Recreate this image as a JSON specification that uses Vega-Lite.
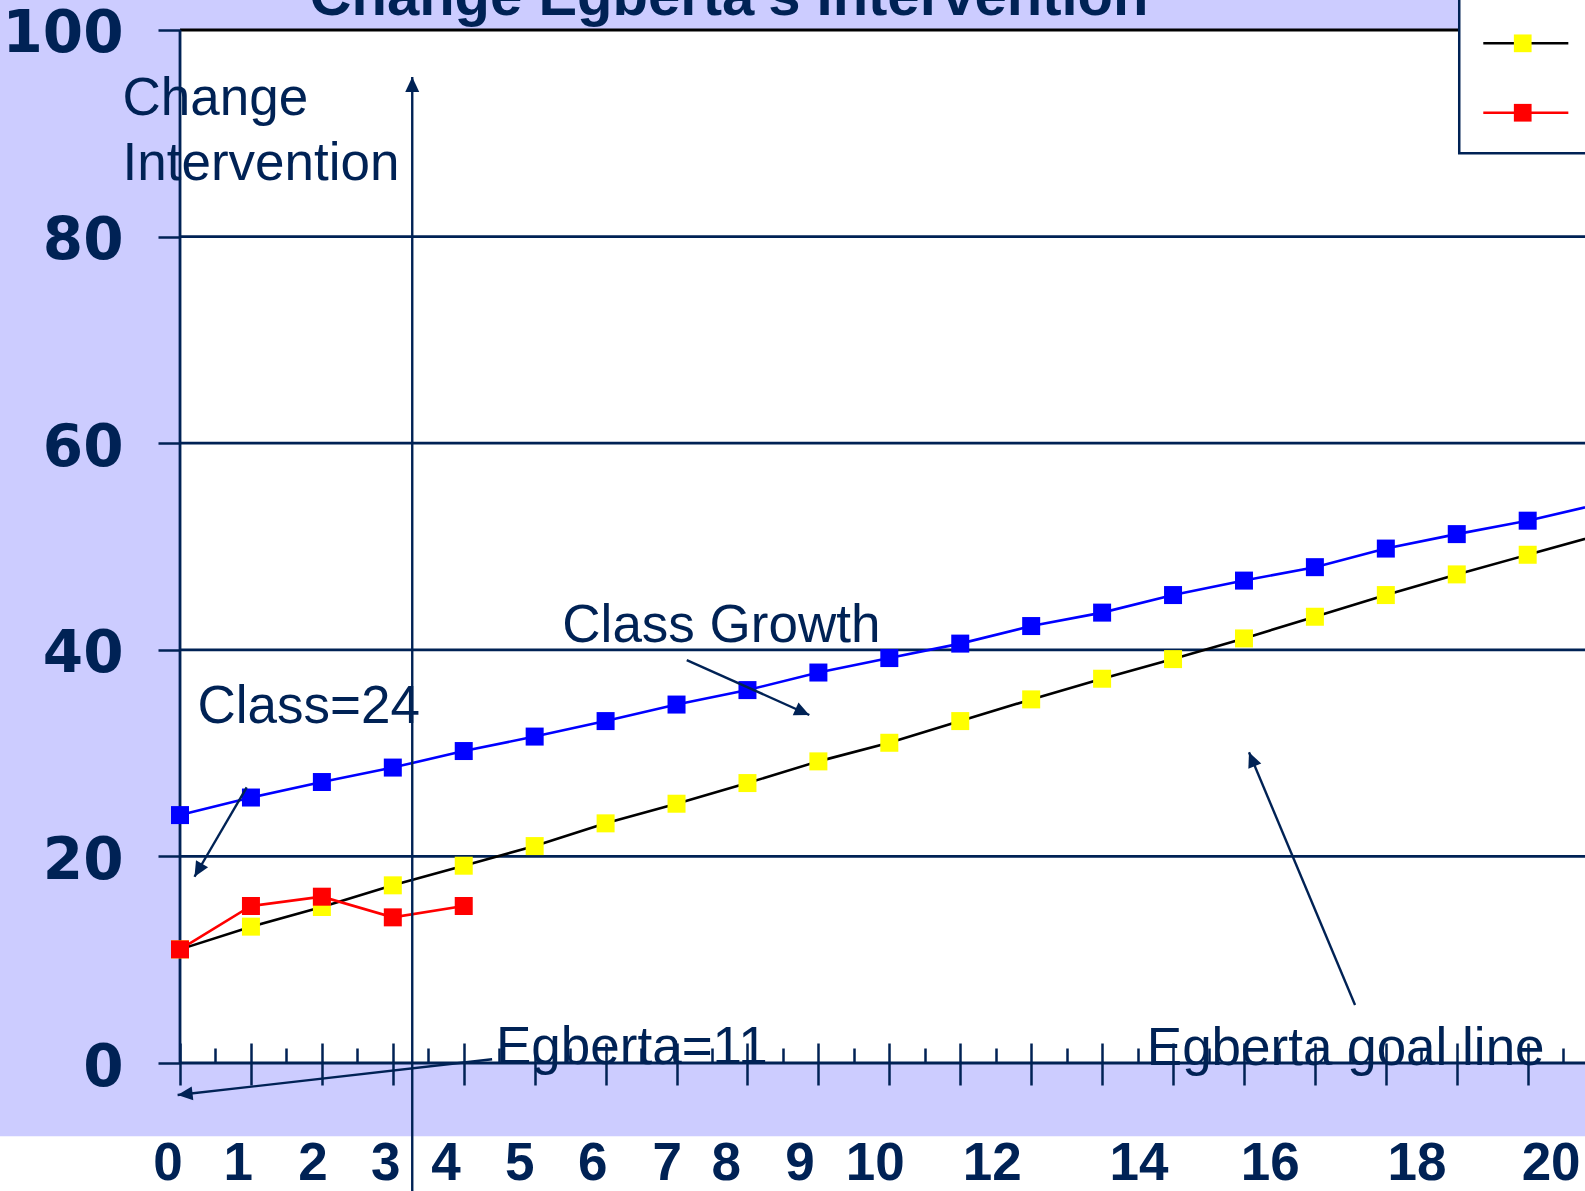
{
  "$schema": "https://vega.github.io/schema/vega-lite/v6.json",
  "width": 1585,
  "height": 1191,
  "padding": 0,
  "autosize": {"type": "none"},
  "background": "#CCCCFF",
  "config": {"view": {"stroke": null}, "font": "Liberation Sans"},
  "datasets": {
    "scores": [
      {"series": "Class", "week": 0, "score": 24.0}, {"series": "Class", "week": 1, "score": 25.7},
      {"series": "Class", "week": 2, "score": 27.2}, {"series": "Class", "week": 3, "score": 28.6},
      {"series": "Class", "week": 4, "score": 30.2}, {"series": "Class", "week": 5, "score": 31.6},
      {"series": "Class", "week": 6, "score": 33.1}, {"series": "Class", "week": 7, "score": 34.7},
      {"series": "Class", "week": 8, "score": 36.1}, {"series": "Class", "week": 9, "score": 37.8},
      {"series": "Class", "week": 10, "score": 39.2}, {"series": "Class", "week": 11, "score": 40.6},
      {"series": "Class", "week": 12, "score": 42.3}, {"series": "Class", "week": 13, "score": 43.6},
      {"series": "Class", "week": 14, "score": 45.3}, {"series": "Class", "week": 15, "score": 46.7},
      {"series": "Class", "week": 16, "score": 48.0}, {"series": "Class", "week": 17, "score": 49.8},
      {"series": "Class", "week": 18, "score": 51.2}, {"series": "Class", "week": 19, "score": 52.5},
      {"series": "Class", "week": 20, "score": 54.1},
      {"series": "Goal", "week": 0, "score": 11.0}, {"series": "Goal", "week": 1, "score": 13.2},
      {"series": "Goal", "week": 2, "score": 15.1}, {"series": "Goal", "week": 3, "score": 17.2},
      {"series": "Goal", "week": 4, "score": 19.1}, {"series": "Goal", "week": 5, "score": 21.0},
      {"series": "Goal", "week": 6, "score": 23.2}, {"series": "Goal", "week": 7, "score": 25.1},
      {"series": "Goal", "week": 8, "score": 27.1}, {"series": "Goal", "week": 9, "score": 29.2},
      {"series": "Goal", "week": 10, "score": 31.0}, {"series": "Goal", "week": 11, "score": 33.1},
      {"series": "Goal", "week": 12, "score": 35.2}, {"series": "Goal", "week": 13, "score": 37.2},
      {"series": "Goal", "week": 14, "score": 39.1}, {"series": "Goal", "week": 15, "score": 41.1},
      {"series": "Goal", "week": 16, "score": 43.2}, {"series": "Goal", "week": 17, "score": 45.3},
      {"series": "Goal", "week": 18, "score": 47.3}, {"series": "Goal", "week": 19, "score": 49.2},
      {"series": "Goal", "week": 20, "score": 51.1},
      {"series": "Egberta", "week": 0, "score": 11.0}, {"series": "Egberta", "week": 1, "score": 15.2},
      {"series": "Egberta", "week": 2, "score": 16.1}, {"series": "Egberta", "week": 3, "score": 14.1},
      {"series": "Egberta", "week": 4, "score": 15.2}
    ],
    "gridlines": [{"level": 20}, {"level": 40}, {"level": 60}, {"level": 80}],
    "arrows": [
      {"name": "intervention", "x": 3.274, "y": -13, "x2": 3.274, "y2": 95.45},
      {"name": "class24", "x": 0.94, "y": 26.69, "x2": 0.204, "y2": 18.03},
      {"name": "classgrowth", "x": 7.144, "y": 39.01, "x2": 8.872, "y2": 33.69},
      {"name": "egberta11", "x": 4.40, "y": 0.36, "x2": -0.034, "y2": -3.10},
      {"name": "goalline", "x": 16.566, "y": 5.61, "x2": 15.071, "y2": 30.08}
    ],
    "notes": [
      {"note": "Change", "x": -0.811, "y": 91.77},
      {"note": "Intervention", "x": -0.811, "y": 85.48},
      {"note": "Class=24", "x": 0.247, "y": 32.88},
      {"note": "Class Growth", "x": 5.39, "y": 40.78},
      {"note": "Egberta=11", "x": 4.455, "y": -0.05},
      {"note": "Egberta goal line", "x": 13.63, "y": -0.2}
    ],
    "weeklabels": [
      {"label": "0", "pos": -0.17}, {"label": "1", "pos": 0.82}, {"label": "2", "pos": 1.875},
      {"label": "3", "pos": 2.90}, {"label": "4", "pos": 3.75}, {"label": "5", "pos": 4.79},
      {"label": "6", "pos": 5.82}, {"label": "7", "pos": 6.87}, {"label": "8", "pos": 7.70},
      {"label": "9", "pos": 8.74}, {"label": "10", "pos": 9.80}, {"label": "12", "pos": 11.45},
      {"label": "14", "pos": 13.52}, {"label": "16", "pos": 15.37}, {"label": "18", "pos": 17.44},
      {"label": "20", "pos": 19.33}
    ],
    "legendrows": [{"series": "Goal", "pos": 98.71}, {"series": "Egberta", "pos": 91.99}]
  },
  "layer": [
    {
      "data": {"values": [{}]},
      "mark": {"type": "rect", "fill": "white", "strokeWidth": 0},
      "encoding": {
        "x": {
          "datum": 0, "type": "quantitative",
          "scale": {"domain": [-2.538, 19.808], "nice": false, "zero": false},
          "axis": {
            "orient": "bottom", "offset": -148,
            "values": [0,0.5,1,1.5,2,2.5,3,3.5,4,4.5,5,5.5,6,6.5,7,7.5,8,8.5,9,9.5,10,10.5,11,11.5,12,12.5,13,13.5,14,14.5,15,15.5,16,16.5,17,17.5,18,18.5,19,19.5],
            "domain": false, "grid": false, "labels": false, "ticks": true,
            "tickSize": {"condition": {"test": "datum.value % 1 === 0", "value": 42}, "value": 20},
            "tickDash": {"condition": {"test": "datum.value % 1 === 0", "value": []}, "value": [0, 5, 15, 100]},
            "tickWidth": 2.5, "tickColor": "#002255", "title": null, "zindex": 2
          }
        },
        "x2": {"datum": 25},
        "y": {
          "datum": 0, "type": "quantitative",
          "scale": {"domain": [-12.39, 102.904], "nice": false, "zero": false},
          "axis": {
            "orient": "left", "offset": -180, "values": [0, 20, 40, 60, 80, 100],
            "domain": false, "grid": false, "ticks": true, "tickSize": 22, "tickWidth": 2.5,
            "tickColor": "#002255", "labelFont": "DejaVu Sans", "labelFontWeight": "bold",
            "labelFontSize": 58, "labelColor": "#002255", "labelPadding": 35,
            "labelBaseline": "alphabetic", "labelOffset": 22, "labelOverlap": false,
            "labelBound": false, "labelFlush": false, "title": null, "zindex": 2
          }
        },
        "y2": {"datum": 100}
      }
    },
    {
      "data": {"values": [{}]},
      "mark": {"type": "rect", "fill": "white", "strokeWidth": 0},
      "encoding": {"x": {"datum": -5}, "x2": {"datum": 25}, "y": {"datum": -14}, "y2": {"datum": -7.1}}
    },
    {
      "data": {"name": "gridlines"},
      "mark": {"type": "rule", "color": "#002255", "strokeWidth": 2.7},
      "encoding": {"y": {"field": "level", "type": "quantitative"}, "x": {"datum": 0}, "x2": {"datum": 25}}
    },
    {
      "data": {"values": [{}]},
      "mark": {"type": "rule", "color": "#000000", "strokeWidth": 3.2},
      "encoding": {"y": {"datum": 100}, "x": {"datum": 0}, "x2": {"datum": 25}}
    },
    {
      "data": {"values": [{}]},
      "mark": {"type": "rule", "color": "#002255", "strokeWidth": 2.8},
      "encoding": {"y": {"datum": 0}, "x": {"datum": 0}, "x2": {"datum": 25}}
    },
    {
      "data": {"values": [{}]},
      "mark": {"type": "rule", "color": "#002255", "strokeWidth": 2.8},
      "encoding": {"x": {"datum": 0}, "y": {"datum": 0}, "y2": {"datum": 100}}
    },
    {
      "data": {"name": "scores"},
      "transform": [{"filter": "datum.series === 'Goal'"}],
      "mark": {"type": "line", "strokeWidth": 2.6},
      "encoding": {
        "x": {"field": "week", "type": "quantitative"},
        "y": {"field": "score", "type": "quantitative"},
        "stroke": {"field": "series", "type": "nominal", "legend": null,
          "scale": {"domain": ["Class", "Goal", "Egberta"], "range": ["#0000FF", "#000000", "#FF0000"]}}
      }
    },
    {
      "data": {"name": "scores"},
      "transform": [{"filter": "datum.series === 'Goal'"}],
      "mark": {"type": "point", "shape": "square", "filled": true, "size": 324, "opacity": 1, "strokeWidth": 0},
      "encoding": {
        "x": {"field": "week", "type": "quantitative"},
        "y": {"field": "score", "type": "quantitative"},
        "fill": {"field": "series", "type": "nominal", "legend": null,
          "scale": {"domain": ["Class", "Goal", "Egberta"], "range": ["#0000FF", "#FFFF00", "#FF0000"]}}
      }
    },
    {
      "data": {"name": "scores"},
      "transform": [{"filter": "datum.series === 'Class'"}],
      "mark": {"type": "line", "strokeWidth": 2.6},
      "encoding": {
        "x": {"field": "week", "type": "quantitative"},
        "y": {"field": "score", "type": "quantitative"},
        "stroke": {"field": "series", "type": "nominal", "legend": null}
      }
    },
    {
      "data": {"name": "scores"},
      "transform": [{"filter": "datum.series === 'Class'"}],
      "mark": {"type": "point", "shape": "square", "filled": true, "size": 324, "opacity": 1, "strokeWidth": 0},
      "encoding": {
        "x": {"field": "week", "type": "quantitative"},
        "y": {"field": "score", "type": "quantitative"},
        "fill": {"field": "series", "type": "nominal", "legend": null}
      }
    },
    {
      "data": {"name": "scores"},
      "transform": [{"filter": "datum.series === 'Egberta'"}],
      "mark": {"type": "line", "strokeWidth": 2.6},
      "encoding": {
        "x": {"field": "week", "type": "quantitative"},
        "y": {"field": "score", "type": "quantitative"},
        "stroke": {"field": "series", "type": "nominal", "legend": null}
      }
    },
    {
      "data": {"name": "scores"},
      "transform": [{"filter": "datum.series === 'Egberta'"}],
      "mark": {"type": "point", "shape": "square", "filled": true, "size": 324, "opacity": 1, "strokeWidth": 0},
      "encoding": {
        "x": {"field": "week", "type": "quantitative"},
        "y": {"field": "score", "type": "quantitative"},
        "fill": {"field": "series", "type": "nominal", "legend": null}
      }
    },
    {
      "data": {"name": "arrows"},
      "mark": {"type": "rule", "color": "#002255", "strokeWidth": 2.4},
      "encoding": {
        "x": {"field": "x", "type": "quantitative"},
        "y": {"field": "y", "type": "quantitative"},
        "x2": {"field": "x2"},
        "y2": {"field": "y2"}
      }
    },
    {
      "data": {"name": "arrows"},
      "transform": [{"calculate": "atan2((datum.x2 - datum.x) * 70.93, (datum.y2 - datum.y) * 10.33) * 180 / PI", "as": "heading"}],
      "mark": {"type": "point", "shape": "M0,0L-1.4,3L1.4,3Z", "filled": true, "size": 100, "color": "#002255", "opacity": 1, "strokeWidth": 0},
      "encoding": {
        "x": {"field": "x2", "type": "quantitative"},
        "y": {"field": "y2", "type": "quantitative"},
        "angle": {"field": "heading", "type": "quantitative", "scale": null}
      }
    },
    {
      "data": {"name": "notes"},
      "mark": {"type": "text", "align": "left", "baseline": "alphabetic", "font": "Liberation Sans", "fontSize": 53, "color": "#002255"},
      "encoding": {
        "x": {"field": "x", "type": "quantitative"},
        "y": {"field": "y", "type": "quantitative"},
        "text": {"field": "note"}
      }
    },
    {
      "data": {"name": "weeklabels"},
      "mark": {"type": "text", "align": "center", "baseline": "alphabetic", "font": "Liberation Sans", "fontWeight": "bold", "fontSize": 53, "color": "#002255"},
      "encoding": {
        "x": {"field": "pos", "type": "quantitative"},
        "y": {"datum": -11.3},
        "text": {"field": "label"}
      }
    },
    {
      "data": {"values": [{"title": "Change Egberta's Intervention"}]},
      "mark": {"type": "text", "align": "center", "baseline": "alphabetic", "font": "Liberation Sans", "fontWeight": "bold", "fontSize": 58, "color": "#002255"},
      "encoding": {
        "x": {"datum": 7.74},
        "y": {"datum": 101.45},
        "text": {"field": "title"}
      }
    },
    {
      "data": {"values": [{}]},
      "mark": {"type": "rect", "fill": "white", "stroke": "#002255", "strokeWidth": 2.5},
      "encoding": {"x": {"datum": 18.035}, "x2": {"datum": 25}, "y": {"datum": 88.06}, "y2": {"datum": 110}}
    },
    {
      "data": {"name": "legendrows"},
      "mark": {"type": "rule", "strokeWidth": 2.6},
      "encoding": {
        "x": {"datum": 18.374}, "x2": {"datum": 19.573},
        "y": {"field": "pos", "type": "quantitative"},
        "stroke": {"field": "series", "type": "nominal", "legend": null}
      }
    },
    {
      "data": {"name": "legendrows"},
      "mark": {"type": "point", "shape": "square", "filled": true, "size": 314, "opacity": 1, "strokeWidth": 0},
      "encoding": {
        "x": {"datum": 18.93},
        "y": {"field": "pos", "type": "quantitative"},
        "fill": {"field": "series", "type": "nominal", "legend": null}
      }
    }
  ]
}
